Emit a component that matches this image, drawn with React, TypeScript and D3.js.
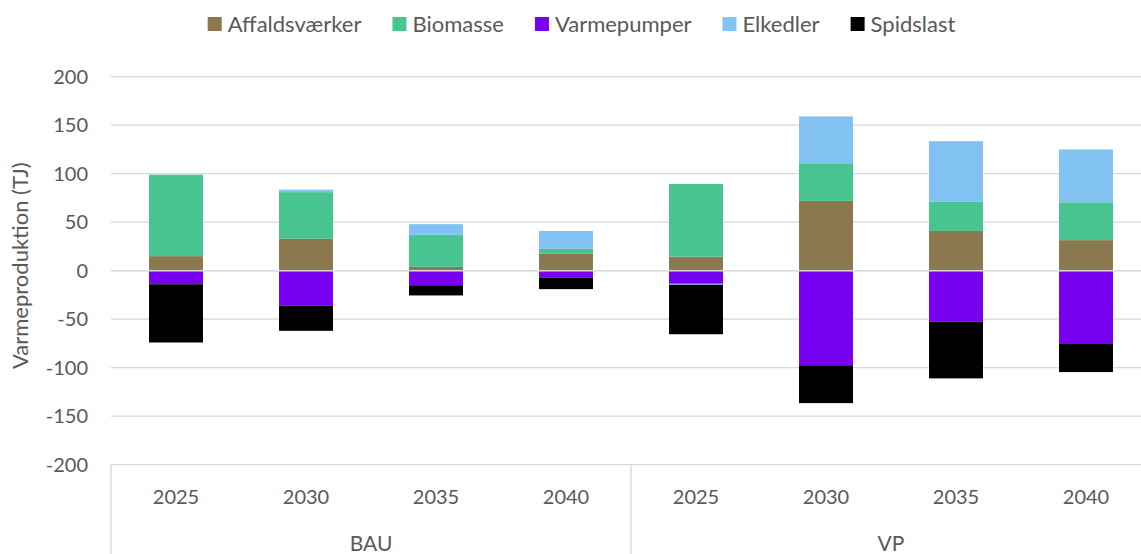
import React, { useEffect, useRef } from 'react';
import * as d3 from 'd3';

const groups = ['BAU', 'VP'];
const years = ['2025', '2030', '2035', '2040'];
const seriesNames = ['Affaldsværker', 'Biomasse', 'Varmepumper', 'Elkedler', 'Spidslast'];
const seriesColors = ['#8B784E', '#47C490', '#7800F0', '#82C2F2', '#000000'];

// values per category: BAU 2025..2040, VP 2025..2040
const affald = [15, 33, 4, 17.5, 14.5, 72, 41, 31.5];
const biomasse = [84, 48, 33, 5, 75, 38, 30, 39];
const varmepumper = [-14, -36, -15, -7, -13.5, -97.5, -52.5, -75.5];
const elkedler = [0, 2.5, 11, 18.5, -1, 49, 62.5, 54.5];
const spidslast = [-60, -26, -10.5, -12, -51, -39, -58.5, -29];

const yTicks = [-200, -150, -100, -50, 0, 50, 100, 150, 200];

const W = 1141;
const H = 554;
const FONT = 'Lato, "Open Sans", sans-serif';
const TEXT = '#595959';
const GRID = '#d9d9d9';

const App: React.FC = () => {
  const ref = useRef<SVGSVGElement>(null);

  useEffect(() => {
    const svg = d3.select(ref.current);
    svg.selectAll('*').remove();

    const cats = groups.flatMap((g) => years.map((y) => `${g}|${y}`));
    const values = [affald, biomasse, varmepumper, elkedler, spidslast];
    const rows = cats.map((c, i) => {
      const r: Record<string, any> = { cat: c };
      seriesNames.forEach((s, k) => (r[s] = values[k][i]));
      return r;
    });

    const plotLeft = 111;
    const plotRight = 1151; // right edge falls just outside the window
    const x = d3.scaleBand<string>()
      .domain(cats)
      .range([plotLeft, plotRight])
      .paddingInner(0.585)
      .paddingOuter(0.2925);
    const y = d3.scaleLinear().domain([-200, 200]).range([464.7, 76.7]);

    // gridlines
    svg.append('g')
      .selectAll('line')
      .data(yTicks)
      .join('line')
      .attr('x1', plotLeft)
      .attr('x2', W)
      .attr('y1', (d) => y(d))
      .attr('y2', (d) => y(d))
      .attr('stroke', GRID)
      .attr('stroke-width', 1.3);

    // tick labels
    svg.append('g')
      .selectAll('text')
      .data(yTicks)
      .join('text')
      .attr('x', 88)
      .attr('y', (d) => y(d))
      .attr('dy', '0.35em')
      .attr('text-anchor', 'end')
      .attr('font-family', FONT)
      .attr('font-size', 20)
      .attr('fill', TEXT)
      .text((d) => d);

    svg.append('text')
      .attr('transform', `translate(28,${(y(200) + y(-200)) / 2 - 5}) rotate(-90)`)
      .attr('text-anchor', 'middle')
      .attr('font-family', FONT)
      .attr('font-size', 22)
      .attr('fill', TEXT)
      .text('Varmeproduktion (TJ)');

    // stacked bars
    const stack = d3.stack<any>().keys(seriesNames).offset(d3.stackOffsetDiverging);
    const layers = stack(rows);
    svg.append('g')
      .selectAll('g')
      .data(layers)
      .join('g')
      .attr('fill', (_, i) => seriesColors[i])
      .selectAll('rect')
      .data((d) => d)
      .join('rect')
      .attr('x', (d) => x(d.data.cat)!)
      .attr('width', x.bandwidth())
      .attr('y', (d) => y(Math.max(d[0], d[1])))
      .attr('height', (d) => Math.abs(y(d[0]) - y(d[1])));

    // zero line drawn over the bars
    svg.append('line')
      .attr('x1', plotLeft)
      .attr('x2', W)
      .attr('y1', y(0))
      .attr('y2', y(0))
      .attr('stroke', GRID)
      .attr('stroke-width', 1.5);

    // category axis: year labels, group labels, separators
    const step = x.step();
    svg.append('g')
      .selectAll('text')
      .data(cats)
      .join('text')
      .attr('x', (d) => x(d)! + x.bandwidth() / 2)
      .attr('y', 497)
      .attr('dy', '0.35em')
      .attr('text-anchor', 'middle')
      .attr('font-family', FONT)
      .attr('font-size', 20)
      .attr('fill', TEXT)
      .text((d) => d.split('|')[1]);

    groups.forEach((g, gi) => {
      const start = plotLeft + gi * years.length * step;
      const end = start + years.length * step;
      svg.append('line')
        .attr('x1', start)
        .attr('x2', start)
        .attr('y1', y(-200))
        .attr('y2', H)
        .attr('stroke', GRID)
        .attr('stroke-width', 1.3);
      svg.append('text')
        .attr('x', (start + end) / 2)
        .attr('y', 544)
        .attr('dy', '0.35em')
        .attr('text-anchor', 'middle')
        .attr('font-family', FONT)
        .attr('font-size', 21)
        .attr('fill', TEXT)
        .text(g);
    });

    // legend
    const legend = svg.append('g');
    const items = legend.selectAll('g').data(seriesNames).join('g');
    items.append('rect')
      .attr('width', 14)
      .attr('height', 14)
      .attr('y', 17)
      .attr('fill', (_, i) => seriesColors[i]);
    items.append('text')
      .attr('x', 20)
      .attr('y', 24)
      .attr('dy', '0.35em')
      .attr('font-family', FONT)
      .attr('font-size', 22)
      .attr('fill', TEXT)
      .text((d) => d);
    let offset = 0;
    const offsets: number[] = [];
    items.each(function () {
      offsets.push(offset);
      const t = d3.select(this).select('text').node() as SVGTextElement;
      offset += 20 + t.getComputedTextLength() + 31;
    });
    const total = offset - 31;
    const legendStart = 581.5 - total / 2;
    items.attr('transform', (_, i) => `translate(${legendStart + offsets[i]},0)`);
  }, []);

  return (
    <div style={{ position: 'absolute', left: 0, top: 0 }}>
      <svg ref={ref} width={W} height={H} style={{ display: 'block', background: '#fff' }} />
    </div>
  );
};

export default App;
